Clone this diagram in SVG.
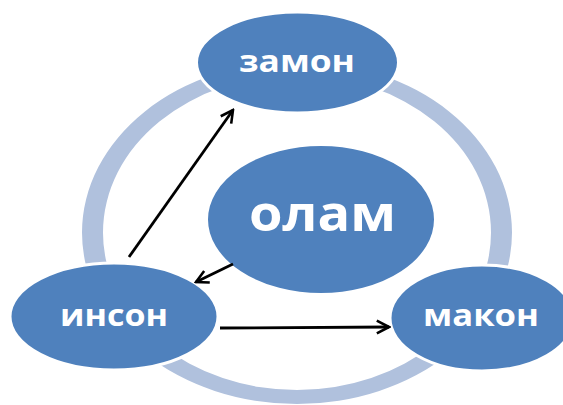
<svg xmlns="http://www.w3.org/2000/svg" width="563" height="405" viewBox="0 0 563 405">
<style>
.node{fill:#4F81BD;stroke:#FFFFFF;stroke-width:3}
.lbl{font-family:"Open Sans","DejaVu Sans",sans-serif;font-weight:bold;fill:#FFFFFF;text-anchor:middle}
.conn{stroke:#000000;stroke-width:2.8;fill:none;marker-end:url(#ah)}
</style>
<defs>
<marker id="ah" viewBox="0 0 12 12" refX="10.5" refY="6" markerWidth="5.5" markerHeight="5.5" orient="auto" markerUnits="strokeWidth">
<path d="M1,1 L10.5,6 L1,11" fill="none" stroke="#000000" stroke-width="2" stroke-linejoin="miter"/>
</marker>
</defs>
<rect width="563" height="405" fill="#FFFFFF"/>
<g id="ring">
<path fill="#B0C1DD" fill-rule="evenodd" d="M82,232.6 A215,171.4 0 1,0 512,232.6 A215,171.4 0 1,0 82,232.6 Z M103,232.6 A194,157.4 0 1,0 491,232.6 A194,157.4 0 1,0 103,232.6 Z"/>
</g>
<g id="zamon">
<ellipse class="node" cx="297.5" cy="62.5" rx="101" ry="50.5"/>
<text class="lbl" x="297" y="72" font-size="31" textLength="116" lengthAdjust="spacingAndGlyphs">замон</text>
</g>
<g id="olam">
<ellipse class="node" cx="321" cy="219.5" rx="114.5" ry="75"/>
<text class="lbl" x="322.5" y="231" font-size="50" textLength="147" lengthAdjust="spacingAndGlyphs">олам</text>
</g>
<g id="inson">
<ellipse class="node" cx="114" cy="316.5" rx="104" ry="53.5"/>
<text class="lbl" x="114" y="326" font-size="30" textLength="108" lengthAdjust="spacingAndGlyphs">инсон</text>
</g>
<g id="makon">
<ellipse class="node" cx="482" cy="318" rx="92" ry="53"/>
<text class="lbl" x="481" y="326" font-size="30" textLength="116" lengthAdjust="spacingAndGlyphs">макон</text>
</g>
<g id="connectors">
<line class="conn" x1="129" y1="257" x2="233" y2="110"/>
<line class="conn" x1="233" y1="264" x2="196" y2="282"/>
<line class="conn" x1="220" y1="328" x2="389" y2="327"/>
</g>
</svg>
